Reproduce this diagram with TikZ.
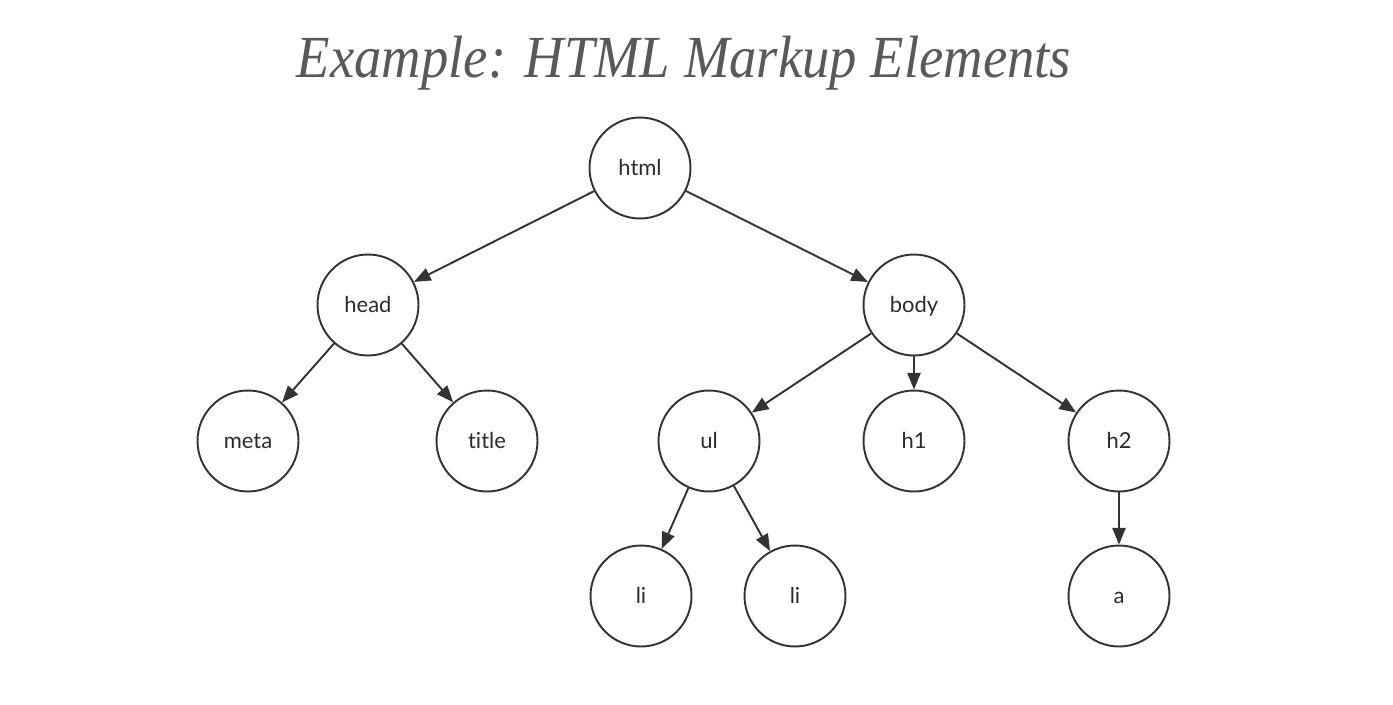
\documentclass[tikz,border=0pt]{standalone}
\usepackage{fontspec}
\setmainfont[Ligatures=NoCommon]{Lato}
\newfontfamily\titlefont[FakeStretch=0.915]{Liberation Serif}
\definecolor{tagline}{RGB}{51,51,51}
\definecolor{tagtext}{RGB}{43,43,43}
\definecolor{titlegray}{RGB}{89,89,89}
\usetikzlibrary{arrows.meta}

\begin{document}
\begin{tikzpicture}[x=0.02cm,y=-0.02cm,
  tag/.style={draw=tagline,line width=1.1pt,circle,minimum size=2.02cm,inner sep=0pt,text=tagtext,text height=8.8pt,text depth=0pt,font=\fontsize{12.5}{14}\selectfont},
  child/.style={-{Triangle[length=9.5pt,width=7.5pt]},draw=tagline,fill=tagline,line width=1.1pt}]
  \useasboundingbox (0,0) rectangle (1393,704);
  % Title
  \node[font=\titlefont\itshape\fontsize{34}{40}\selectfont,text=titlegray,anchor=base,inner sep=0pt] (heading) at (684,77) {Example: HTML Markup Elements};
  % Root
  \node[tag] (html) at (640,168) {html};
  % Second level
  \node[tag] (head) at (368,305) {head};
  \node[tag] (body) at (914,305) {body};
  % Third level
  \node[tag] (meta) at (248,441) {meta};
  \node[tag] (title) at (487,441) {title};
  \node[tag] (ul) at (709,441) {ul};
  \node[tag] (h1) at (914,441) {h1};
  \node[tag] (h2) at (1119,441) {h2};
  % Fourth level
  \node[tag] (li1) at (641,596) {li};
  \node[tag] (li2) at (795,596) {li};
  \node[tag] (a) at (1119,596) {a};
  % Edges
  \draw[child] (html) -- (head);
  \draw[child] (html) -- (body);
  \draw[child] (head) -- (meta);
  \draw[child] (head) -- (title);
  \draw[child] (body) -- (ul);
  \draw[child] (body) -- (h1);
  \draw[child] (body) -- (h2);
  \draw[child] (ul) -- (li1);
  \draw[child] (ul) -- (li2);
  \draw[child] (h2) -- (a);
\end{tikzpicture}
\end{document}
